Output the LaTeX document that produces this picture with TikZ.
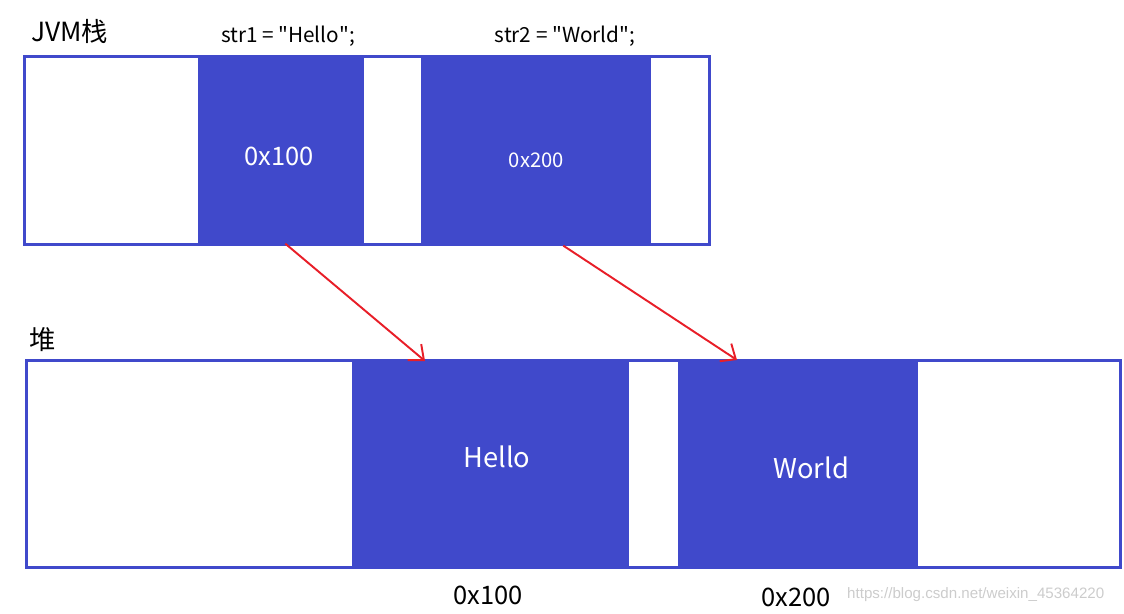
\documentclass[tikz,border=0pt]{standalone}
\usepackage{fontspec}
\setmainfont{Noto Sans CJK SC}
\newfontfamily\markfont{Liberation Sans}
\usetikzlibrary{arrows.meta, positioning, calc}
\definecolor{memblue}{RGB}{64,73,203}
\definecolor{ptrred}{RGB}{232,30,40}
\tikzset{
    area/.style={draw=memblue, line width=1.6pt, anchor=north west, inner sep=0pt},
    cell/.style={fill=memblue, anchor=north west, inner sep=0pt},
    celltext/.style={text=white, inner sep=0pt},
    title/.style={anchor=west, font=\fontsize{15}{18}\selectfont},
    code/.style={font=\fontsize{11.8}{14}\selectfont},
    addr/.style={font=\fontsize{14.5}{17}\selectfont},
    ptr/.style={draw=ptrred, line width=1.1pt, -{Straight Barb[length=7pt,width=12pt,line width=1.1pt]}}
}

\begin{document}
\begin{tikzpicture}[x=0.02cm, y=-0.02cm]
    \useasboundingbox (0,0) rectangle (1124,613);
    % stack
    \node[area, minimum width=13.7cm, minimum height=3.76cm] (stack) at (23,55) {};
    \node[cell, minimum width=3.32cm, minimum height=3.76cm] (s1) at (198,55) {};
    \node[cell, minimum width=4.6cm, minimum height=3.8cm] (s2) at (421,55) {};
    \node[celltext, font=\fontsize{14.5}{17}\selectfont] (s1t) at ($(s1)+(-2,7)$) {0x100};
    \node[celltext, font=\fontsize{11.5}{14}\selectfont] (s2t) at ($(s2)+(0,10)$) {0x200};
    \node[title] (jvm) at (25,31) {JVM栈};
    \node[code] (str1) at (288,36) {str1 = \textquotedbl Hello\textquotedbl;};
    \node[code] (str2) at (565,36) {str2 = \textquotedbl World\textquotedbl;};
    % heap
    \node[area, minimum width=21.88cm, minimum height=4.14cm] (heap) at (25,359) {};
    \node[cell, minimum width=5.54cm, minimum height=4.14cm] (h1) at (352,359) {};
    \node[cell, minimum width=4.8cm, minimum height=4.14cm] (h2) at (678,359) {};
    \node[celltext, font=\fontsize{15.5}{18}\selectfont] (h1t) at ($(h1)+(6,-6)$) {Hello};
    \node[celltext, font=\fontsize{15.5}{18}\selectfont] (h2t) at ($(h2)+(13,5)$) {World};
    \node[title] (dui) at (23,340) {堆};
    \node[addr] (a1) at (488,595) {0x100};
    \node[addr] (a2) at (796,597) {0x200};
    \node[anchor=west, text=black!20, font=\markfont\fontsize{8.6}{10}\selectfont] (mark) at (841,595) {https://blog.csdn.net/weixin\_45364220};
    % pointers
    \draw[ptr] ($(s1.south)+(4,0)$) -- ($(h1.north west)+(73,2)$);
    \draw[ptr] ($(s2.south)+(27,0)$) -- ($(h2.north west)+(59,1)$);
\end{tikzpicture}
\end{document}
